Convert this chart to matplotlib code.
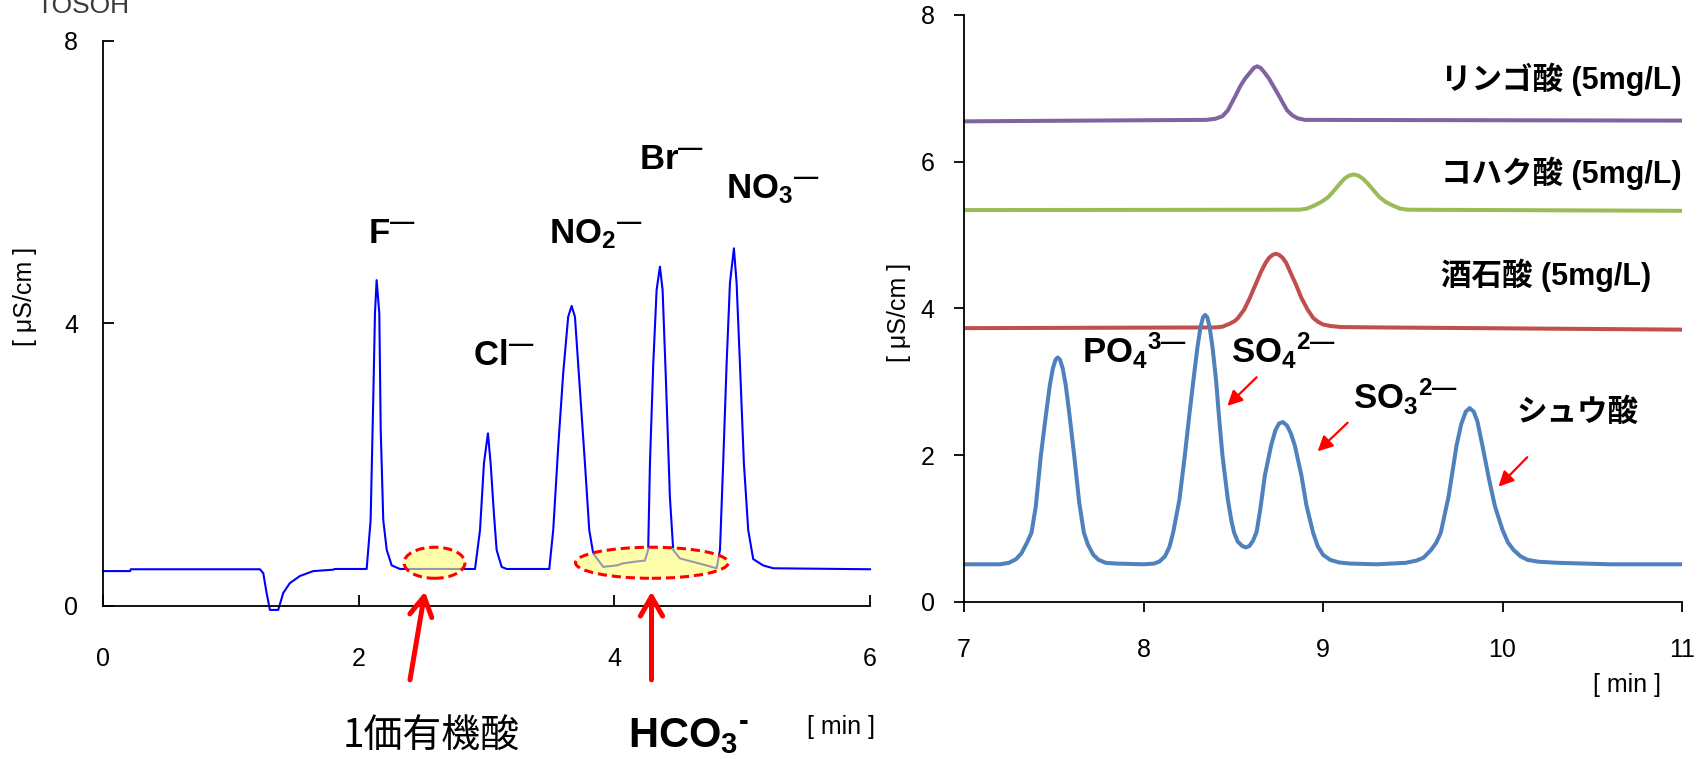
import matplotlib
matplotlib.use("Agg")
import matplotlib.pyplot as plt
from matplotlib.patches import Ellipse

plt.rcParams['font.family'] = ['Liberation Sans', 'Noto Sans CJK JP', 'DejaVu Sans']
plt.rcParams['mathtext.fontset'] = 'custom'
plt.rcParams['mathtext.rm'] = 'Liberation Sans:bold'
plt.rcParams['mathtext.it'] = 'Liberation Sans:bold'
plt.rcParams['mathtext.bf'] = 'Liberation Sans:bold'

# --- anion standard (0-6 min) ---
anion_t = [0.00, 0.21, 0.215, 1.226, 1.252, 1.278, 1.304, 1.369, 1.408, 1.460, 1.538, 1.643, 1.80, 1.81,
           2.05, 2.061, 2.092, 2.113, 2.126, 2.139, 2.16, 2.171, 2.191, 2.218, 2.257, 2.322,
           2.909, 2.948, 2.979, 3.010, 3.031, 3.057, 3.078, 3.117, 3.156,
           3.490, 3.521, 3.560, 3.599, 3.638, 3.665, 3.691, 3.725, 3.769, 3.803, 3.834, 3.912,
           4.017, 4.069, 4.147, 4.239,
           4.264, 4.278, 4.304, 4.330, 4.356, 4.377, 4.403, 4.434, 4.460, 4.512, 4.617, 4.721, 4.800,
           4.826, 4.851, 4.878, 4.904, 4.935, 4.956, 4.982, 5.013, 5.047, 5.086, 5.164, 5.243, 6.00]
anion_v = [0.49, 0.49, 0.516, 0.516, 0.46, 0.18, -0.06, -0.06, 0.18, 0.32, 0.42, 0.49, 0.51, 0.52,
           0.52, 0.52, 1.21, 2.96, 4.14, 4.61, 4.14, 2.49, 1.21, 0.79, 0.57, 0.52,
           0.52, 1.07, 2.02, 2.44, 2.02, 1.30, 0.79, 0.55, 0.52,
           0.52, 1.07, 2.25, 3.29, 4.09, 4.245, 4.09, 3.19, 2.02, 1.07, 0.74, 0.55,
           0.57, 0.60, 0.62, 0.64,
           0.79, 2.02, 3.43, 4.47, 4.80, 4.47, 3.19, 1.54, 0.79, 0.67, 0.62, 0.57, 0.53,
           0.79, 2.02, 3.43, 4.57, 5.06, 4.57, 3.43, 2.02, 1.07, 0.66, 0.57, 0.53, 0.516]

anion_labels = [r'F$^{—}$', r'Cl$^{—}$', r'NO$_2$$^{—}$', r'Br$^{—}$', r'NO$_3$$^{—}$']
anion_label_t = [2.07, 2.89, 3.49, 4.19, 4.877]
anion_label_v = [5.13, 3.41, 5.13, 6.19, 5.77]

# regions where weak acids co-elute
ellipse_t = [2.592, 4.293]
ellipse_w = [0.477, 1.195]
ellipse_v = 0.608
ellipse_h = 0.44

# --- organic acid traces (7-11 min) ---
mix_t = [7.00, 7.20, 7.25, 7.29, 7.32, 7.35, 7.376, 7.40, 7.428, 7.456, 7.478, 7.495, 7.51, 7.522,
         7.535, 7.55, 7.567, 7.588, 7.614, 7.642, 7.668, 7.69, 7.72, 7.75, 7.79, 7.85, 8.00, 8.06,
         8.09, 8.12, 8.145, 8.165, 8.20, 8.23, 8.255, 8.277, 8.30, 8.318, 8.332, 8.343, 8.355, 8.368,
         8.385, 8.405, 8.42, 8.44, 8.47, 8.49, 8.505, 8.525, 8.55, 8.57, 8.59, 8.61, 8.63, 8.65,
         8.676, 8.711, 8.735, 8.755, 8.777, 8.80, 8.82, 8.843, 8.88, 8.908, 8.945, 8.97, 9.00, 9.04,
         9.09, 9.15, 9.30, 9.46, 9.52, 9.56, 9.60, 9.63, 9.656, 9.70, 9.744, 9.77, 9.795, 9.817,
         9.84, 9.86, 9.888, 9.925, 9.958, 10.00, 10.03, 10.06, 10.10, 10.14, 10.20, 10.31, 10.60, 11.00]
mix_v = [0.51, 0.51, 0.53, 0.58, 0.66, 0.80, 0.94, 1.30, 1.99, 2.54, 2.95, 3.18, 3.30, 3.33,
         3.30, 3.18, 2.95, 2.54, 1.99, 1.35, 0.94, 0.78, 0.64, 0.57, 0.53, 0.52, 0.51, 0.52,
         0.55, 0.62, 0.75, 0.94, 1.39, 1.99, 2.54, 3.00, 3.46, 3.75, 3.88, 3.91, 3.88, 3.75,
         3.46, 3.00, 2.54, 1.99, 1.39, 1.10, 0.94, 0.82, 0.76, 0.74, 0.76, 0.83, 0.95, 1.25,
         1.72, 2.13, 2.34, 2.43, 2.45, 2.40, 2.30, 2.13, 1.72, 1.31, 0.94, 0.76, 0.64, 0.57,
         0.535, 0.52, 0.51, 0.53, 0.56, 0.60, 0.70, 0.80, 0.94, 1.44, 2.13, 2.42, 2.59, 2.64,
         2.59, 2.46, 2.13, 1.67, 1.30, 0.98, 0.81, 0.71, 0.62, 0.57, 0.545, 0.53, 0.51, 0.51]

tartaric_t = [7.00, 8.40, 8.44, 8.48, 8.51, 8.527, 8.56, 8.592, 8.625, 8.657, 8.68, 8.70, 8.72, 8.737,
              8.755, 8.775, 8.795, 8.815, 8.85, 8.88, 8.915, 8.945, 8.97, 9.00, 9.04, 9.10, 9.30, 11.00]
tartaric_v = [3.73, 3.74, 3.75, 3.79, 3.83, 3.87, 3.98, 4.14, 4.33, 4.51, 4.62, 4.69, 4.73, 4.745,
              4.73, 4.69, 4.62, 4.51, 4.32, 4.14, 3.98, 3.87, 3.82, 3.78, 3.76, 3.745, 3.74, 3.71]

succinic_t = [7.00, 8.87, 8.91, 8.95, 8.99, 9.028, 9.06, 9.093, 9.12, 9.145, 9.171, 9.197, 9.222,
              9.251, 9.285, 9.316, 9.35, 9.39, 9.43, 9.47, 11.00]
succinic_v = [5.34, 5.345, 5.36, 5.40, 5.45, 5.514, 5.60, 5.697, 5.77, 5.81, 5.825, 5.81, 5.77,
              5.697, 5.60, 5.514, 5.45, 5.40, 5.36, 5.345, 5.33]

malic_t = [7.00, 8.35, 8.40, 8.44, 8.47, 8.49, 8.515, 8.537, 8.565, 8.592, 8.615, 8.633, 8.652,
           8.676, 8.70, 8.726, 8.752, 8.778, 8.80, 8.83, 8.86, 8.90, 11.00]
malic_v = [6.55, 6.57, 6.585, 6.62, 6.70, 6.795, 6.91, 7.02, 7.13, 7.21, 7.28, 7.30, 7.28,
           7.21, 7.13, 7.02, 6.91, 6.795, 6.70, 6.63, 6.59, 6.57, 6.56]

acid_names = ['リンゴ酸 (5mg/L)', 'コハク酸 (5mg/L)', '酒石酸 (5mg/L)']
acid_name_v = [7.12, 5.84, 4.45]

mix_labels = [r'PO$_4$$^{3—}$', r'SO$_4$$^{2—}$', r'SO$_3$$^{2—}$']
mix_label_t = [7.655, 8.49, 9.166]
mix_label_v = [3.25, 3.25, 2.63]

# small arrows: (tail_t, tail_v, head_t, head_v)
mix_arrows = [(8.63, 3.06, 8.467, 2.67), (9.137, 2.44, 8.97, 2.05), (10.138, 1.97, 9.978, 1.57)]

fig = plt.figure(figsize=(17.04, 7.59), dpi=100)

# ---------------- left panel ----------------
ax1 = fig.add_axes([103.3 / 1704, 1 - 605.7 / 759, (870 - 103.3) / 1704, (605.7 - 40.7) / 759])
ax1.plot(anion_t, anion_v, color='#0000ff', lw=1.5, clip_on=False, zorder=2)
ax1.set_xlim(0, 6)
ax1.set_ylim(0, 8)
ax1.set_xticks([0, 2, 4, 6])
ax1.set_yticks([0, 4, 8])
for s in ['top', 'right']:
    ax1.spines[s].set_visible(False)
for s in ['left', 'bottom']:
    ax1.spines[s].set_linewidth(1.3)
ax1.tick_params(direction='in', length=7.7, width=1.3, labelsize=18)
ax1.tick_params(axis='x', pad=30)
ax1.tick_params(axis='y', pad=18)

for et, ew in zip(ellipse_t, ellipse_w):
    ax1.add_patch(Ellipse((et, ellipse_v), ew, ellipse_h, facecolor=(1, 1, 0.45), alpha=0.6,
                          edgecolor='none', zorder=3))
    ax1.add_patch(Ellipse((et, ellipse_v), ew, ellipse_h, facecolor='none', edgecolor='#ff0000',
                          lw=2.2, linestyle=(0, (3, 1.6)), zorder=4))

for lab, lt, lv in zip(anion_labels, anion_label_t, anion_label_v):
    ax1.text(lt, lv, lab, fontsize=25, fontweight='bold', ha='left', va='baseline')

for tail_t, head_t in [(2.40, 2.517), (4.29, 4.29)]:
    ax1.annotate('', xy=(head_t, 0.20), xytext=(tail_t, -1.05), annotation_clip=False,
                 arrowprops=dict(arrowstyle='->,head_length=0.7,head_width=0.4', color='#ff0000',
                                 lw=3.6, mutation_scale=20, shrinkA=0, shrinkB=0))

fig.text(25 / 1704, 1 - 296 / 759, '[ μS/cm ]', rotation=90, ha='center', va='center', fontsize=18)
fig.text(806.7 / 1704, 1 - 726.7 / 759, '[ min ]', ha='left', va='center', fontsize=18)
fig.text(343 / 1704, 1 - 748 / 759, '1価有機酸', ha='left', va='baseline', fontsize=28,
         family=['Noto Sans CJK JP', 'DejaVu Sans'])
fig.text(628 / 1704, 1 - 746.7 / 759, r'HCO$_3$$^{‐}$', ha='left', va='baseline', fontsize=30,
         fontweight='bold')
fig.text(36 / 1704, 1 - 13 / 759, 'TOSOH', ha='left', va='baseline', fontsize=19, color='#3a3a3a')

# ---------------- right panel ----------------
ax2 = fig.add_axes([964 / 1704, 1 - 601.7 / 759, (1682 - 964) / 1704, (601.7 - 15) / 759])
ax2.plot(malic_t, malic_v, color='#8064a2', lw=2.9, solid_joinstyle='round')
ax2.plot(succinic_t, succinic_v, color='#9bbb59', lw=2.9, solid_joinstyle='round')
ax2.plot(tartaric_t, tartaric_v, color='#c0504d', lw=2.9, solid_joinstyle='round')
ax2.plot(mix_t, mix_v, color='#4f81bd', lw=2.9, solid_joinstyle='round')
ax2.set_xlim(7, 11)
ax2.set_ylim(0, 8)
ax2.set_xticks([7, 8, 9, 10, 11])
ax2.set_yticks([0, 2, 4, 6, 8])
for s in ['top', 'right']:
    ax2.spines[s].set_visible(False)
for s in ['left', 'bottom']:
    ax2.spines[s].set_linewidth(1.3)
ax2.tick_params(direction='out', length=7.2, width=1.3, labelsize=18)
ax2.tick_params(axis='x', pad=19)
ax2.tick_params(axis='y', pad=14)

for name, nv in zip(acid_names, acid_name_v):
    ax2.text(9.656, nv, name, fontsize=22, fontweight='bold', ha='left', va='center')
ax2.text(10.08, 2.58, 'シュウ酸', fontsize=22, fontweight='bold', ha='left', va='center')

for lab, lt, lv in zip(mix_labels, mix_label_t, mix_label_v):
    ax2.text(lt, lv, lab, fontsize=25, fontweight='bold', ha='left', va='baseline')

for tt, tv, ht, hv in mix_arrows:
    ax2.annotate('', xy=(ht, hv), xytext=(tt, tv),
                 arrowprops=dict(arrowstyle='-|>,head_length=0.6,head_width=0.3', color='#ff0000',
                                 lw=1.6, mutation_scale=15, shrinkA=0, shrinkB=0))

fig.text(899 / 1704, 1 - 312 / 759, '[ μS/cm ]', rotation=90, ha='center', va='center', fontsize=18)
fig.text(1593 / 1704, 1 - 685 / 759, '[ min ]', ha='left', va='center', fontsize=18)

fig.savefig('out.png', dpi=100)
